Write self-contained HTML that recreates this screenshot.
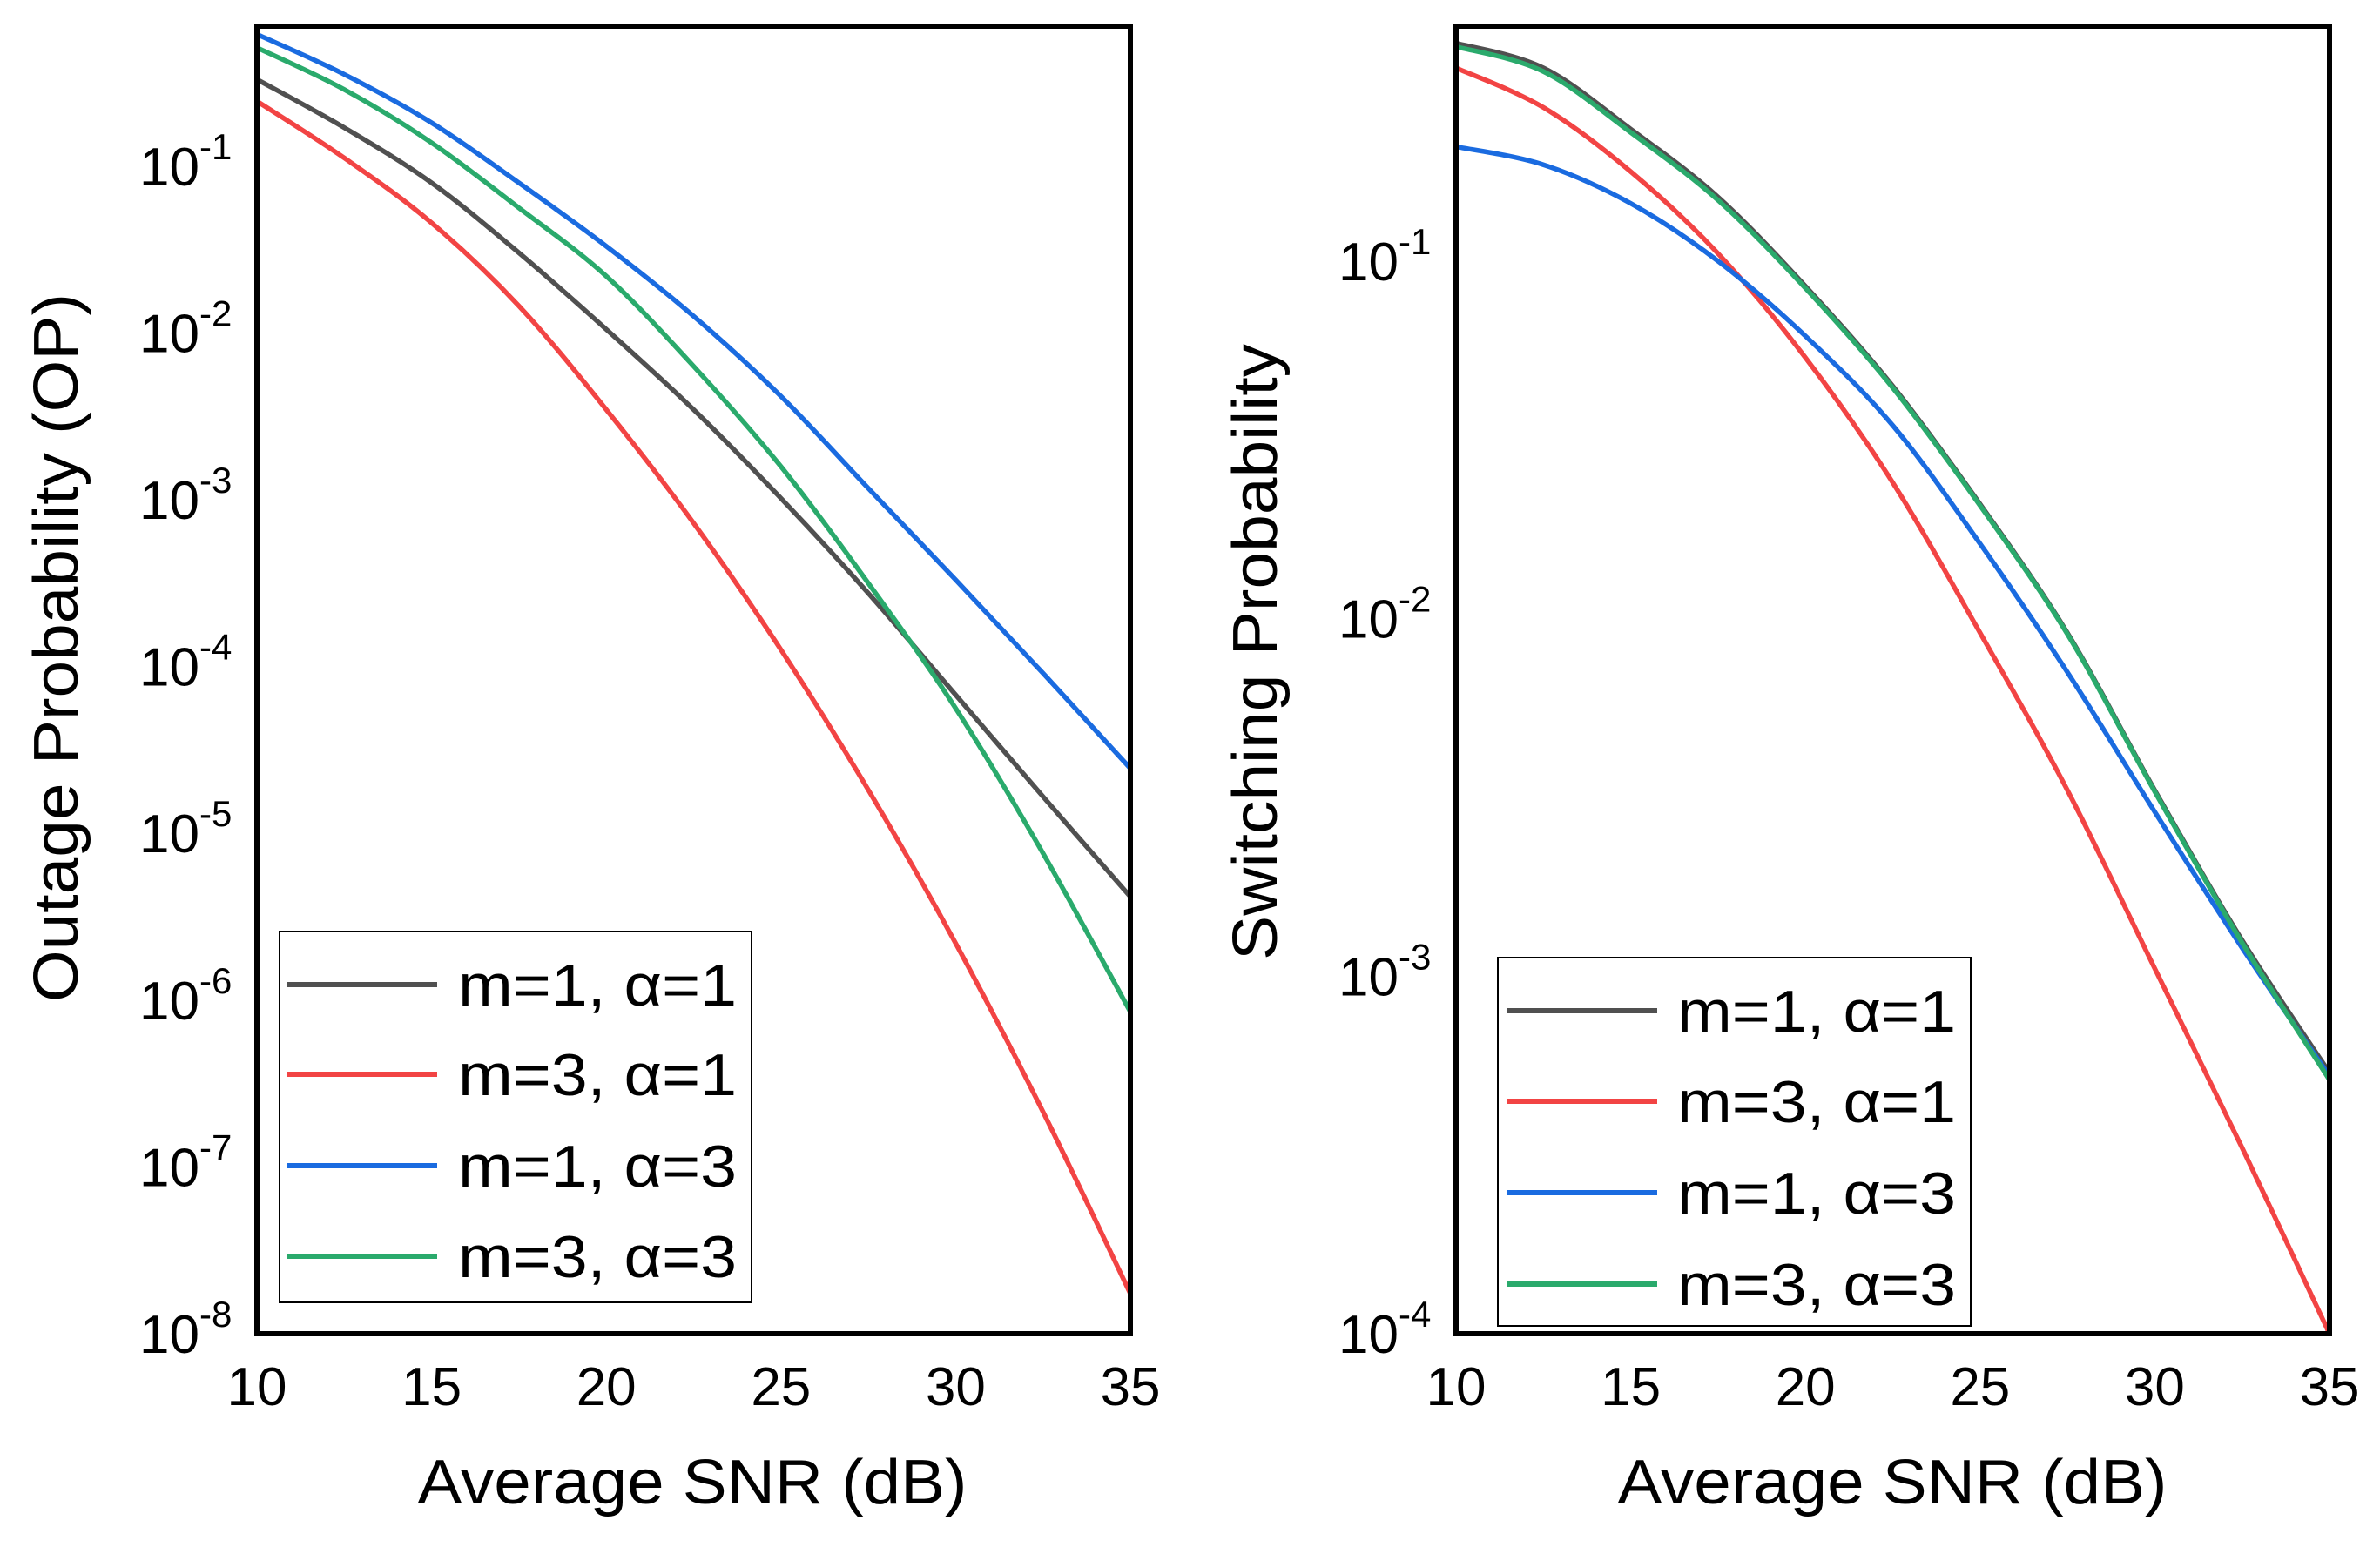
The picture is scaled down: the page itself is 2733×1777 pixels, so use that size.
<!DOCTYPE html>
<html><head><meta charset="utf-8"><style>
html,body{margin:0;padding:0;background:#fff;}
svg{display:block;}
text{font-family:"Liberation Sans",Arial,sans-serif;fill:#000;}
</style></head><body>
<svg id="fig" width="2733" height="1777" viewBox="0 0 2733 1777" xmlns="http://www.w3.org/2000/svg"></svg>
<script>
const snr = [10,12.5,15,17.5,20,22.5,25,27.5,30,32.5,35];
const xTicks = [10,15,20,25,30,35];
const opYTicks = [-1,-2,-3,-4,-5,-6,-7,-8];
const spYTicks = [-1,-2,-3,-4];
const legendLabels = ["m=1, \u03b1=1","m=3, \u03b1=1","m=1, \u03b1=3","m=3, \u03b1=3"];
const opM1A1 = [3.31e-1,1.70e-1,7.94e-2,3.02e-2,1.05e-2,3.47e-3,1.02e-3,2.75e-4,6.76e-5,1.66e-5,4.17e-6];
const opM3A1 = [2.45e-1,1.12e-1,4.57e-2,1.45e-2,3.47e-3,7.24e-4,1.26e-4,1.82e-5,2.19e-6,2.14e-7,1.74e-8];
const opM1A3 = [6.17e-1,3.55e-1,1.82e-1,7.94e-2,3.31e-2,1.26e-2,4.17e-3,1.17e-3,3.31e-4,9.12e-5,2.45e-5];
const opM3A3 = [5.13e-1,2.88e-1,1.38e-1,5.62e-2,2.19e-2,6.31e-3,1.58e-3,3.16e-4,5.62e-5,7.59e-6,8.51e-7];
const spM1A1 = [4.07e-1,3.47e-1,2.34e-1,1.51e-1,8.51e-2,4.47e-2,2.09e-2,9.12e-3,3.31e-3,1.26e-3,5.37e-4];
const spM3A1 = [3.47e-1,2.69e-1,1.78e-1,1.05e-1,5.37e-2,2.40e-2,9.12e-3,3.31e-3,1.05e-3,3.31e-4,1.0e-4];
const spM1A3 = [2.09e-1,1.86e-1,1.45e-1,1.0e-1,6.17e-2,3.47e-2,1.62e-2,7.08e-3,2.88e-3,1.20e-3,5.25e-4];
const spM3A3 = [3.98e-1,3.39e-1,2.29e-1,1.48e-1,8.40e-2,4.42e-2,2.07e-2,9.05e-3,3.28e-3,1.24e-3,5.13e-4];

const NS="http://www.w3.org/2000/svg";
const svg=document.getElementById('fig');
const colors=["#505050","#f24444","#1a6be0","#2aaa6c"];
function mk(tag,attrs,parent){const e=document.createElementNS(NS,tag);for(const k in attrs)e.setAttribute(k,attrs[k]);(parent||svg).appendChild(e);return e;}

function panel(cfg){
  const g=mk('g',{});
  
  
  const L=cfg.x0,R=cfg.x1,T=30,B=1532;
  const xs=v=>L+(v-10)/25*(R-L);
  const ys=v=>B-(Math.log10(v)-cfg.ymin)*cfg.dec;
  const cp=mk('clipPath',{id:'clip'+cfg.name},g);
  mk('rect',{x:L,y:T,width:R-L,height:B-T},cp);
  cfg.series.forEach((arr,i)=>{
    const pts=arr.map((v,j)=>[xs(snr[j]),ys(v)]);
    let d='M'+pts[0][0]+','+pts[0][1];
    for(let j=0;j<pts.length-1;j++){
      const p0=pts[Math.max(0,j-1)],p1=pts[j],p2=pts[j+1],p3=pts[Math.min(pts.length-1,j+2)];
      const c1=[p1[0]+(p2[0]-p0[0])/6,p1[1]+(p2[1]-p0[1])/6];
      const c2=[p2[0]-(p3[0]-p1[0])/6,p2[1]-(p3[1]-p1[1])/6];
      d+=' C'+c1[0].toFixed(1)+','+c1[1].toFixed(1)+' '+c2[0].toFixed(1)+','+c2[1].toFixed(1)+' '+p2[0].toFixed(1)+','+p2[1].toFixed(1);
    }
    const p=mk('path',{d:d,fill:'none',stroke:colors[i],'stroke-width':5.5,'clip-path':'url(#clip'+cfg.name+')'},g);
    
    
  });
  const fr=mk('rect',{x:L,y:T,width:R-L,height:B-T,fill:'none',stroke:'#000','stroke-width':6},g);
  
  
  xTicks.forEach(t=>{
    const tx=mk('text',{x:xs(t),y:1614,'font-size':62,'text-anchor':'middle'},g);
    tx.textContent=t;
    
    
  });
  cfg.yticks.forEach(t=>{
    const y=B-(t-cfg.ymin)*cfg.dec;
    const tx=mk('text',{x:cfg.labX,y:y+22,'font-size':62},g);
    
    
    const a=mk('tspan',{},tx);a.textContent='10';
    const b=mk('tspan',{dy:-30,'font-size':42},tx);b.textContent='-'+(-t);
  });
  const xt=mk('text',{x:cfg.xtX,y:1727,'font-size':72,'text-anchor':'middle',textLength:631,lengthAdjust:'spacingAndGlyphs'},g);
  xt.textContent='Average SNR (dB)';
  
  
  const yt=mk('text',{x:0,y:0,'font-size':72,'text-anchor':'middle',textLength:cfg.ytLen,lengthAdjust:'spacingAndGlyphs',transform:'translate('+cfg.ytX+','+cfg.ytY+') rotate(-90)'},g);
  yt.textContent=cfg.ytitle;
  
  
  const lg=mk('g',{},g);
  
  
  mk('rect',{x:cfg.lg[0],y:cfg.lg[1],width:cfg.lg[2],height:cfg.lg[3],fill:'#fff',stroke:'#000','stroke-width':2},lg);
  legendLabels.forEach((lab,i)=>{
    const y=cfg.lgRows[i];
    const en=mk('g',{},lg);
    
    
    mk('line',{x1:cfg.lgLine[0],x2:cfg.lgLine[1],y1:y,y2:y,stroke:colors[i],'stroke-width':6},en);
    const tx=mk('text',{x:cfg.lgText,y:y+24,'font-size':68,textLength:320,lengthAdjust:'spacingAndGlyphs'},en);
    tx.textContent=lab;
  });
}
panel({name:'outage-panel',x0:295,x1:1298,ymin:-8,dec:191.6,yticks:opYTicks,labX:160,
  series:[opM1A1,opM3A1,opM1A3,opM3A3],xtX:795,ytitle:'Outage Probability (OP)',ytX:89,ytY:744,ytLen:814,
  lg:[321,1070,542,426],lgRows:[1131,1234,1339,1443],lgLine:[329,502],lgText:526});
panel({name:'switching-panel',x0:1672,x1:2675,ymin:-4,dec:410.7,yticks:spYTicks,labX:1537,
  series:[spM1A1,spM3A1,spM1A3,spM3A3],xtX:2173,ytitle:'Switching Probability',ytX:1466,ytY:749,ytLen:708,
  lg:[1720,1100,543,423],lgRows:[1161,1265,1370,1475],lgLine:[1731,1903],lgText:1926});
</script>
</body></html>
